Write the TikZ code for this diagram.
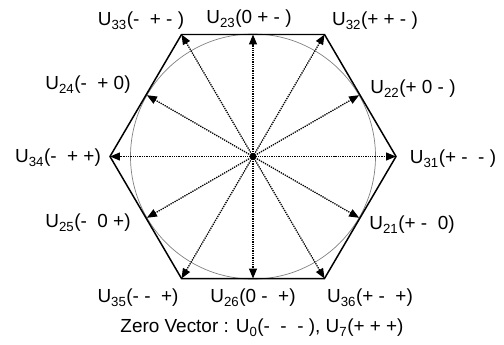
\documentclass[tikz,border=0pt]{standalone}
\usepackage{fontspec}
\setmainfont{Liberation Sans}
\usetikzlibrary{arrows.meta}
\tikzset{
  vec/.style={densely dotted,line width=1.3pt,-{Triangle[length=10pt,width=8pt]}},
  lbl/.style={inner sep=0pt,font=\fontsize{19}{22}\selectfont}
}
\newcommand{\Us}[1]{U\textsubscript{#1}}
\begin{document}
\begin{tikzpicture}[x=1bp,y=1bp]
\useasboundingbox (0,0) rectangle (504,344);
\coordinate (O) at (253,187.5);
% hexagon corners
\coordinate (v31) at (396,187.5);
\coordinate (v32) at (324.5,309.5);
\coordinate (v33) at (181.5,309.5);
\coordinate (v34) at (110,187.5);
\coordinate (v35) at (181.5,65.5);
\coordinate (v36) at (324.5,65.5);
% points on the circle
\coordinate (m22) at (359.1,248.8);
\coordinate (m23) at (253,309.5);
\coordinate (m24) at (146.9,248.8);
\coordinate (m25) at (146.9,126.2);
\coordinate (m26) at (253,65.5);
\coordinate (m21) at (359.1,126.2);

\draw[gray,line width=0.7pt] (O) circle (122.5);
\draw[line width=1.5pt,line join=miter] (v31) -- (v32) -- (v33) -- (v34) -- (v35) -- (v36) -- cycle;

\draw[vec] (O) -- (v31);
\draw[vec] (O) -- (v32);
\draw[vec] (O) -- (v33);
\draw[vec] (O) -- (v34);
\draw[vec] (O) -- (v35);
\draw[vec] (O) -- (v36);
\draw[vec] (O) -- (m21);
\draw[vec] (O) -- (m22);
\draw[vec] (O) -- (m23);
\draw[vec] (O) -- (m24);
\draw[vec] (O) -- (m25);
\draw[vec] (O) -- (m26);
\fill (O) circle (3);

\node[lbl] (l33) at (141,323) {\Us{33}(-\ \ + - )};
\node[lbl] (l23) at (249,325) {\Us{23}(0 + - )};
\node[lbl] (l32) at (375,323) {\Us{32}(+ + - )};
\node[lbl] (l24) at (88,259) {\Us{24}(-\ \ + 0)};
\node[lbl] (l22) at (413,255) {\Us{22}(+ 0 - )};
\node[lbl] (l34) at (58,186) {\Us{34}(-\ \ + +)};
\node[lbl] (l31) at (453,185) {\Us{31}(+ - \ - )};
\node[lbl] (l25) at (88,121) {\Us{25}(-\ \ 0 +)};
\node[lbl] (l21) at (412,119) {\Us{21}(+ -\ \ 0)};
\node[lbl] (l35) at (138,46) {\Us{35}(- -\ \ +)};
\node[lbl] (l26) at (253,46) {\Us{26}(0 -\ \ +)};
\node[lbl] (l36) at (370,46) {\Us{36}(+ -\ \ +)};
\node[lbl] (zero) at (262,16) {Zero Vector : \Us{0}(-\ \ -\ \ - ), \Us{7}(+ + +)};
\end{tikzpicture}
\end{document}
